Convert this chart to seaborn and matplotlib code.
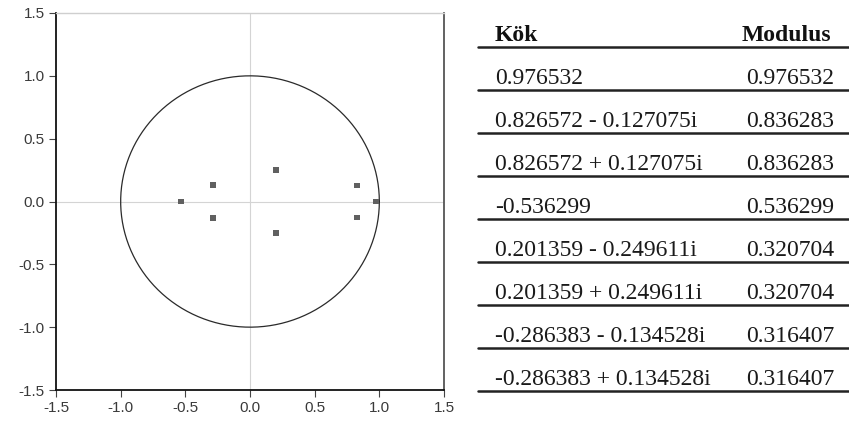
import numpy as np
import pandas as pd
import matplotlib
matplotlib.use("Agg")
import matplotlib.pyplot as plt
import seaborn as sns

# Inverse roots of the AR characteristic polynomial
root_real = [0.976532, 0.826572, 0.826572, -0.536299, 0.201359, 0.201359, -0.286383, -0.286383]
root_imag = [0.0, -0.127075, 0.127075, 0.0, -0.249611, 0.249611, -0.134528, 0.134528]
modulus = [0.976532, 0.836283, 0.836283, 0.536299, 0.320704, 0.320704, 0.316407, 0.316407]
axis_ticks = [-1.5, -1.0, -0.5, 0.0, 0.5, 1.0, 1.5]
header = ["Kök", "Modulus"]

df = pd.DataFrame({"re": root_real, "im": root_imag})

sns.set_style("white")
plt.rcParams["font.family"] = ["Liberation Sans", "DejaVu Sans"]

W, H = 849, 425
fig = plt.figure(figsize=(W / 100, H / 100), dpi=100)

# --- unit circle plot -------------------------------------------------------
ax = fig.add_axes([56 / W, 1 - 390 / H, (444 - 56) / W, (390 - 13) / H])
ax.axhline(0, color="#d4d4d4", lw=0.8, zorder=0)
ax.axvline(0, color="#d4d4d4", lw=0.8, zorder=0)
t = np.linspace(0, 2 * np.pi, 400)
ax.plot(np.cos(t), np.sin(t), color="#2a2a2a", lw=0.9, zorder=1)
sns.scatterplot(data=df, x="re", y="im", ax=ax, marker="s", s=18,
                color="#606060", edgecolor="none", zorder=3, legend=False)

ax.set_xlim(-1.5, 1.5)
ax.set_ylim(-1.5, 1.5)
ax.set_xticks(axis_ticks)
ax.set_yticks(axis_ticks)
ax.set_xticklabels([f"{v:.1f}" for v in axis_ticks])
ax.set_yticklabels([f"{v:.1f}" for v in axis_ticks])
ax.set_xlabel("")
ax.set_ylabel("")
ax.tick_params(axis="both", which="major", direction="out", length=5, width=0.8,
               color="#444444", labelsize=11, labelcolor="#3a3a3a",
               bottom=True, left=True, pad=3)
for side in ("left", "bottom"):
    ax.spines[side].set_color("#111111")
    ax.spines[side].set_linewidth(1.3)
ax.spines["top"].set_color("#cfcfcf")
ax.spines["top"].set_linewidth(1.0)
ax.spines["right"].set_color("#555555")
ax.spines["right"].set_linewidth(1.3)

# --- table of roots ---------------------------------------------------------
tab = fig.add_axes([0, 0, 1, 1])
tab.set_xlim(0, W)
tab.set_ylim(H, 0)
tab.axis("off")

serif = ["Liberation Serif", "DejaVu Serif"]
row_h = 43
first_line = 47
x_left, x_mod = 495, 746

def root_label(re, im):
    if im == 0:
        return f"{re:.6f}"
    sign = "-" if im < 0 else "+"
    return f"{re:.6f} {sign} {abs(im):.6f}i"

tab.text(x_left, first_line - 6, header[0], fontsize=17, fontweight="bold",
         family=serif, color="#111111", va="baseline", ha="left")
tab.text(x_mod - 4, first_line - 6, header[1], fontsize=17, fontweight="bold",
         family=serif, color="#111111", va="baseline", ha="left")
tab.plot([478, W], [first_line, first_line], color="#222222", lw=1.8)

for i, (re, im, m) in enumerate(zip(root_real, root_imag, modulus)):
    y_line = first_line + row_h * (i + 1)
    tab.text(x_left, y_line - 6, root_label(re, im), fontsize=17, family=serif,
             color="#1a1a1a", va="baseline", ha="left")
    tab.text(x_mod, y_line - 6, f"{m:.6f}", fontsize=17, family=serif,
             color="#1a1a1a", va="baseline", ha="left")
    tab.plot([478, W], [y_line, y_line], color="#222222", lw=1.8)

fig.savefig("out.png", dpi=100)
